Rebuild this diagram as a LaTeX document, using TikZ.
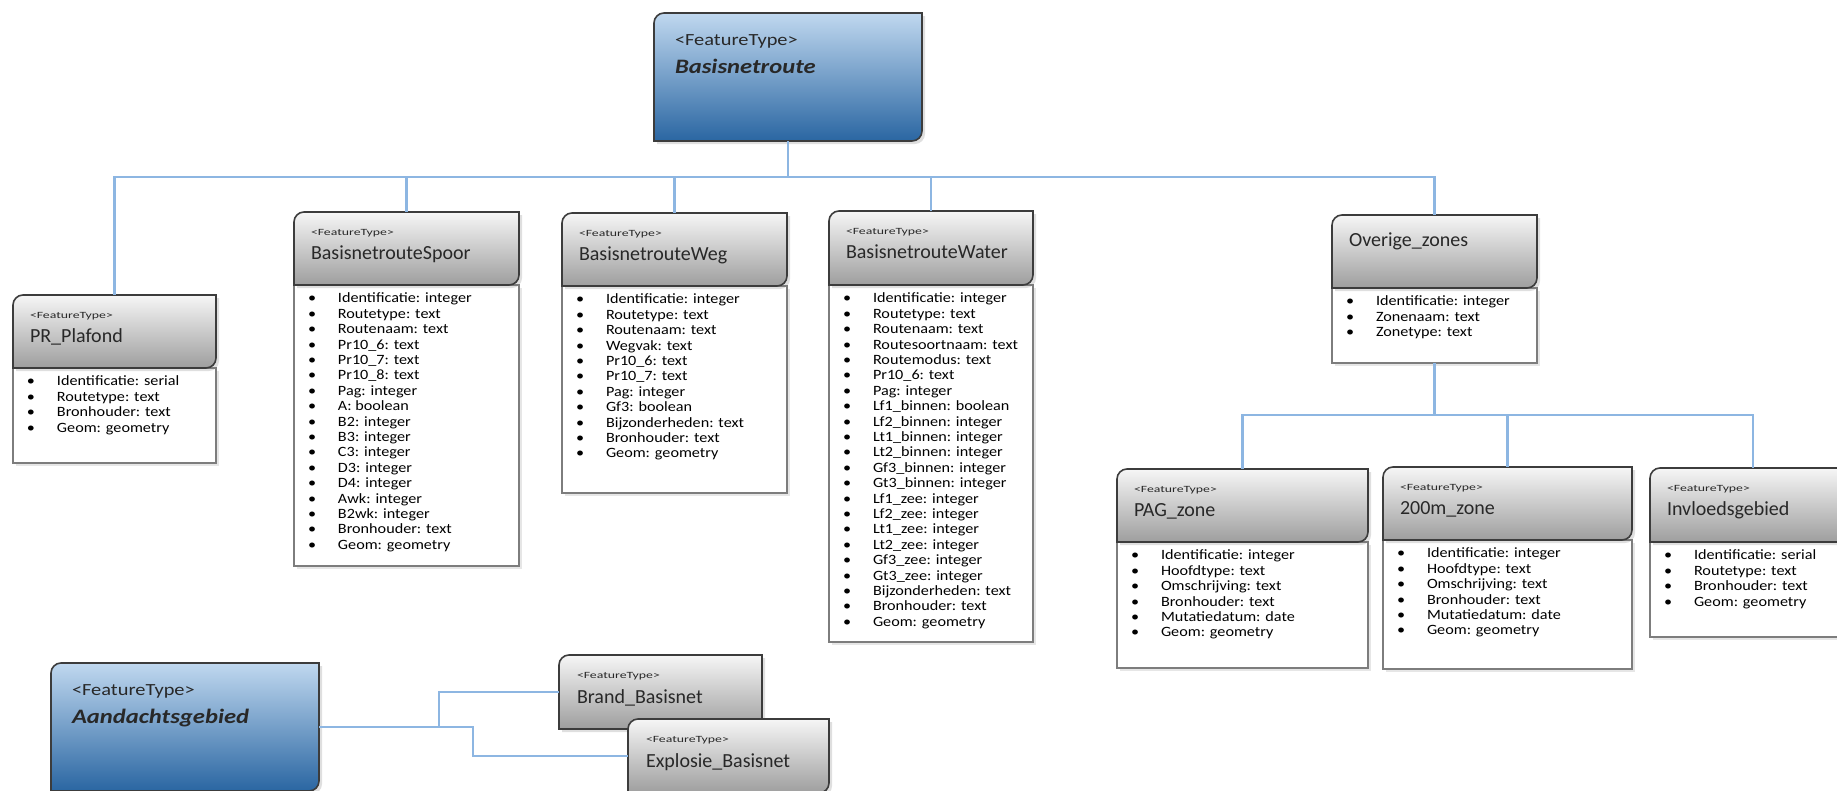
\documentclass[tikz,border=0pt]{standalone}
\usepackage{fontspec}
\setmainfont{Carlito}
\newfontfamily\widefont[FakeStretch=1.2]{Carlito}
\newfontfamily\attrfont[FakeStretch=1.14]{Carlito}
\newfontfamily\stereofont[FakeStretch=1.45]{Carlito}
\usepackage{tikz}
\usetikzlibrary{positioning,shadows}
\usepackage{xcolor}

\definecolor{linkblue}{RGB}{141,182,226}
\definecolor{hdrtop}{RGB}{246,246,246}
\definecolor{hdrbot}{RGB}{158,158,158}
\definecolor{bluetop}{RGB}{192,216,239}
\definecolor{bluemid}{RGB}{122,170,217}
\definecolor{bluebot}{RGB}{42,102,162}
\definecolor{framegray}{RGB}{60,60,60}
\definecolor{bodygray}{RGB}{125,125,125}
\definecolor{txt}{RGB}{40,40,40}

% header with rounded top-left and bottom-right corners
\newcommand{\hdrframe}[2]{%
  \path[#2] (#1.south west) -- ([yshift=-10pt]#1.north west)
    arc[start angle=180,end angle=90,radius=10pt] -- (#1.north east)
    -- ([yshift=10pt]#1.south east)
    arc[start angle=0,end angle=-90,radius=10pt] -- cycle;}
\newcommand{\attr}[1]{\makebox[30pt][l]{\textbullet}#1}

\begin{document}
\begin{tikzpicture}[x=1pt, y=1pt, every node/.style={inner sep=0pt, outer sep=0pt}]
\tikzset{
  hdrbox/.style={anchor=north west, minimum height=73},
  attrbox/.style={draw=bodygray, line width=1.3pt, fill=white,
    drop shadow={shadow xshift=3pt, shadow yshift=-3pt, opacity=.2}},
  grayhdr/.style={draw=framegray, line width=1.6pt, top color=hdrtop, bottom color=hdrbot,
    drop shadow={shadow xshift=3pt, shadow yshift=-3pt, opacity=.25}},
  bluehdr/.style={draw=framegray, line width=1.6pt, top color=bluetop, middle color=bluemid,
    bottom color=bluebot, drop shadow={shadow xshift=3pt, shadow yshift=-3pt, opacity=.25}},
  stereo/.style={anchor=base west, text=txt, font=\stereofont\fontsize{9.5}{11}\selectfont},
  ftname/.style={anchor=base west, text=txt, font=\fontsize{20}{24}\selectfont},
  bigstereo/.style={anchor=base west, text=txt, font=\widefont\fontsize{17}{20}\selectfont},
  bigname/.style={anchor=base west, text=txt, font=\widefont\bfseries\itshape\fontsize{20.5}{24}\selectfont},
  attrs/.style={anchor=north west, align=left, text=black, font=\attrfont\fontsize{14.2}{15.4}\selectfont},
  link/.style={draw=linkblue, line width=2.4pt}
}
\useasboundingbox (0,0) rectangle (1837,-790);

% root
\node[hdrbox, minimum width=268, minimum height=128] (root) at (654,-13) {};
\hdrframe{root}{bluehdr}
\node[bigstereo] at ([shift={(21,-32)}]root.north west) {<FeatureType>};
\node[bigname] at ([shift={(21,-60)}]root.north west) {Basisnetroute};

% PR_Plafond
\node[hdrbox, minimum width=203] (plafond) at (13,-295) {};
\node[attrbox, minimum width=203, minimum height=95, below=0pt of plafond] (plafondattr) {};
\hdrframe{plafond}{grayhdr}
\node[stereo] at ([shift={(17,-23)}]plafond.north west) {<FeatureType>};
\node[ftname] at ([shift={(17,-47)}]plafond.north west) {PR\_Plafond};
\node[attrs] at ([shift={(14,-8)}]plafondattr.north west)
  {\attr{Identificatie: serial}\\ \attr{Routetype: text}\\ \attr{Bronhouder: text}\\ \attr{Geom: geometry}};

% BasisnetrouteSpoor
\node[hdrbox, minimum width=225] (spoor) at (294,-212) {};
\node[attrbox, minimum width=225, minimum height=281, below=0pt of spoor] (spoorattr) {};
\hdrframe{spoor}{grayhdr}
\node[stereo] at ([shift={(17,-23)}]spoor.north west) {<FeatureType>};
\node[ftname] at ([shift={(17,-47)}]spoor.north west) {BasisnetrouteSpoor};
\node[attrs] at ([shift={(14,-8)}]spoorattr.north west)
  {\attr{Identificatie: integer}\\ \attr{Routetype: text}\\ \attr{Routenaam: text}\\
   \attr{Pr10\_6: text}\\ \attr{Pr10\_7: text}\\ \attr{Pr10\_8: text}\\ \attr{Pag: integer}\\
   \attr{A: boolean}\\ \attr{B2: integer}\\ \attr{B3: integer}\\ \attr{C3: integer}\\
   \attr{D3: integer}\\ \attr{D4: integer}\\ \attr{Awk: integer}\\ \attr{B2wk: integer}\\
   \attr{Bronhouder: text}\\ \attr{Geom: geometry}};

% BasisnetrouteWeg
\node[hdrbox, minimum width=225] (weg) at (562,-213) {};
\node[attrbox, minimum width=225, minimum height=207, below=0pt of weg] (wegattr) {};
\hdrframe{weg}{grayhdr}
\node[stereo] at ([shift={(17,-23)}]weg.north west) {<FeatureType>};
\node[ftname] at ([shift={(17,-47)}]weg.north west) {BasisnetrouteWeg};
\node[attrs] at ([shift={(14,-8)}]wegattr.north west)
  {\attr{Identificatie: integer}\\ \attr{Routetype: text}\\ \attr{Routenaam: text}\\
   \attr{Wegvak: text}\\ \attr{Pr10\_6: text}\\ \attr{Pr10\_7: text}\\ \attr{Pag: integer}\\
   \attr{Gf3: boolean}\\ \attr{Bijzonderheden: text}\\ \attr{Bronhouder: text}\\
   \attr{Geom: geometry}};

% BasisnetrouteWater
\node[hdrbox, minimum width=204, minimum height=74] (water) at (829,-211) {};
\node[attrbox, minimum width=204, minimum height=357, below=0pt of water] (waterattr) {};
\hdrframe{water}{grayhdr}
\node[stereo] at ([shift={(17,-23)}]water.north west) {<FeatureType>};
\node[ftname] at ([shift={(17,-47)}]water.north west) {BasisnetrouteWater};
\node[attrs] at ([shift={(14,-8)}]waterattr.north west)
  {\attr{Identificatie: integer}\\ \attr{Routetype: text}\\ \attr{Routenaam: text}\\
   \attr{Routesoortnaam: text}\\ \attr{Routemodus: text}\\ \attr{Pr10\_6: text}\\
   \attr{Pag: integer}\\ \attr{Lf1\_binnen: boolean}\\ \attr{Lf2\_binnen: integer}\\
   \attr{Lt1\_binnen: integer}\\ \attr{Lt2\_binnen: integer}\\ \attr{Gf3\_binnen: integer}\\
   \attr{Gt3\_binnen: integer}\\ \attr{Lf1\_zee: integer}\\ \attr{Lf2\_zee: integer}\\
   \attr{Lt1\_zee: integer}\\ \attr{Lt2\_zee: integer}\\ \attr{Gf3\_zee: integer}\\
   \attr{Gt3\_zee: integer}\\ \attr{Bijzonderheden: text}\\ \attr{Bronhouder: text}\\
   \attr{Geom: geometry}};

% Overige_zones
\node[hdrbox, minimum width=205] (overige) at (1332,-215) {};
\node[attrbox, minimum width=205, minimum height=75, below=0pt of overige] (overigeattr) {};
\hdrframe{overige}{grayhdr}
\node[ftname] at ([shift={(17,-31)}]overige.north west) {Overige\_zones};
\node[attrs] at ([shift={(14,-8)}]overigeattr.north west)
  {\attr{Identificatie: integer}\\ \attr{Zonenaam: text}\\ \attr{Zonetype: text}};

% PAG_zone
\node[hdrbox, minimum width=251] (pag) at (1117,-469) {};
\node[attrbox, minimum width=251, minimum height=126, below=0pt of pag] (pagattr) {};
\hdrframe{pag}{grayhdr}
\node[stereo] at ([shift={(17,-23)}]pag.north west) {<FeatureType>};
\node[ftname] at ([shift={(17,-47)}]pag.north west) {PAG\_zone};
\node[attrs] at ([shift={(14,-8)}]pagattr.north west)
  {\attr{Identificatie: integer}\\ \attr{Hoofdtype: text}\\ \attr{Omschrijving: text}\\
   \attr{Bronhouder: text}\\ \attr{Mutatiedatum: date}\\ \attr{Geom: geometry}};

% 200m_zone
\node[hdrbox, minimum width=249] (zone200) at (1383,-467) {};
\node[attrbox, minimum width=249, minimum height=129, below=0pt of zone200] (zone200attr) {};
\hdrframe{zone200}{grayhdr}
\node[stereo] at ([shift={(17,-23)}]zone200.north west) {<FeatureType>};
\node[ftname] at ([shift={(17,-47)}]zone200.north west) {200m\_zone};
\node[attrs] at ([shift={(14,-8)}]zone200attr.north west)
  {\attr{Identificatie: integer}\\ \attr{Hoofdtype: text}\\ \attr{Omschrijving: text}\\
   \attr{Bronhouder: text}\\ \attr{Mutatiedatum: date}\\ \attr{Geom: geometry}};

% Invloedsgebied
\node[hdrbox, minimum width=206, minimum height=74] (invloed) at (1650,-468) {};
\node[attrbox, minimum width=206, minimum height=95, below=0pt of invloed] (invloedattr) {};
\hdrframe{invloed}{grayhdr}
\node[stereo] at ([shift={(17,-23)}]invloed.north west) {<FeatureType>};
\node[ftname] at ([shift={(17,-47)}]invloed.north west) {Invloedsgebied};
\node[attrs] at ([shift={(14,-8)}]invloedattr.north west)
  {\attr{Identificatie: serial}\\ \attr{Routetype: text}\\ \attr{Bronhouder: text}\\ \attr{Geom: geometry}};

% Aandachtsgebied
\node[hdrbox, minimum width=268, minimum height=128] (aand) at (51,-663) {};
\hdrframe{aand}{bluehdr}
\node[bigstereo] at ([shift={(21,-32)}]aand.north west) {<FeatureType>};
\node[bigname] at ([shift={(21,-60)}]aand.north west) {Aandachtsgebied};

\node[hdrbox, minimum width=203, minimum height=74] (brand) at (559,-655) {};
\hdrframe{brand}{grayhdr}
\node[stereo] at ([shift={(18,-23)}]brand.north west) {<FeatureType>};
\node[ftname] at ([shift={(18,-48)}]brand.north west) {Brand\_Basisnet};

\node[hdrbox, minimum width=201, minimum height=74] (explosie) at (628,-719) {};
\hdrframe{explosie}{grayhdr}
\node[stereo] at ([shift={(18,-23)}]explosie.north west) {<FeatureType>};
\node[ftname] at ([shift={(18,-48)}]explosie.north west) {Explosie\_Basisnet};

% connectors
\draw[link] (root.south) -- ++(0,-36) -| (plafond.north);
\draw[link] (root.south) -- ++(0,-36) -| (spoor.north);
\draw[link] (root.south) -- ++(0,-36) -| (weg.north);
\draw[link] (root.south) -- ++(0,-36) -| (water.north);
\draw[link] (root.south) -- ++(0,-36) -| (overige.north);
\draw[link] (overigeattr.south) -- ++(0,-52) -| (pag.north);
\draw[link] (overigeattr.south) -- ++(0,-52) -| (zone200.north);
\draw[link] (overigeattr.south) -- ++(0,-52) -| (invloed.north);
\draw[link] (aand.east) -- ++(120,0) |- (brand.west);
\draw[link] (aand.east) -- ++(154,0) |- (explosie.west);
\end{tikzpicture}
\end{document}
